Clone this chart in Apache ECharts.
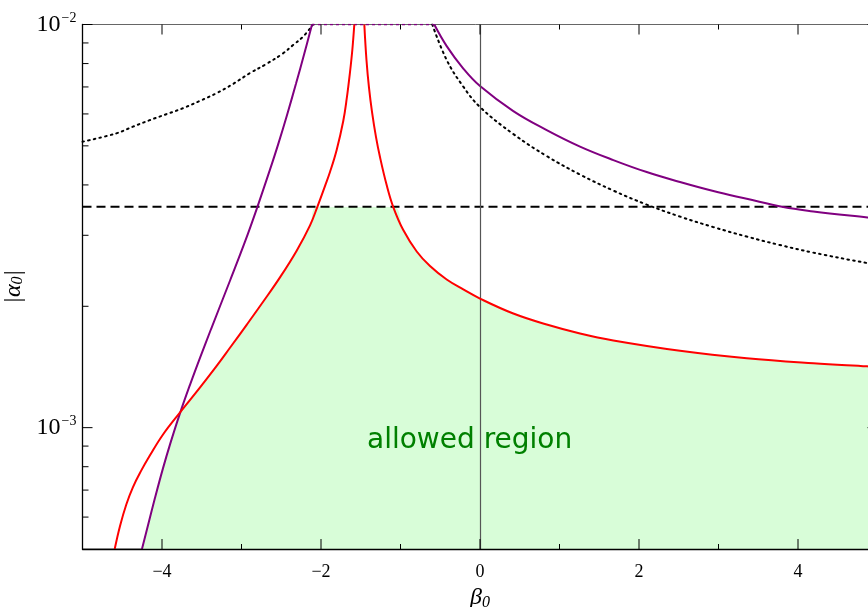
<!DOCTYPE html>
<html>
<head>
<meta charset="utf-8">
<script src="https://cdn.jsdelivr.net/npm/echarts@6/dist/echarts.min.js"></script>
<style>html,body{margin:0;padding:0;background:#fff;}#c{width:868px;height:607px;}</style>
</head>
<body>
<div id="c"></div>
<script>
// ---- data ----
const xRange = [-5, 5];
const yRange = [5e-4, 1e-2];

const purpleLX = [-4.252, -4.176, -4.088, -3.987, -3.899, -3.774, -3.648, -3.522, -3.384, -3.145, -2.956, -2.805, -2.642, -2.541, -2.428, -2.314, -2.214, -2.113];
const purpleLY = [5.0e-4, 5.728e-4, 6.696e-4, 7.936e-4, 9.09e-4, 1.085e-3, 1.277e-3, 1.490e-3, 1.754e-3, 2.314e-3, 2.892e-3, 3.505e-3, 4.364e-3, 5.029e-3, 5.958e-3, 7.137e-3, 8.41e-3, 1e-2];
const purpleTopX = [-2.113, -0.575];
const purpleTopY = [1e-2, 1e-2];
const purpleRX = [-0.575, -0.419, -0.210, 0, 0.419, 0.839, 1.258, 1.677, 2.097, 2.516, 2.935, 3.355, 3.815, 4.193, 4.874, 5.0];
const purpleRY = [1e-2, 8.84e-3, 7.777e-3, 7.036e-3, 6.10e-3, 5.472e-3, 4.98e-3, 4.61e-3, 4.305e-3, 4.066e-3, 3.862e-3, 3.695e-3, 3.525e-3, 3.439e-3, 3.32e-3, 3.30e-3];

const redLX = [-4.595, -4.528, -4.449, -4.365, -4.260, -4.155, -3.987, -3.770, -3.526, -3.317, -3.145, -2.935, -2.726, -2.516, -2.306, -2.138, -2.047, -1.950, -1.887, -1.803, -1.720, -1.677, -1.635, -1.606, -1.581];
const redLY = [5.0e-4, 5.705e-4, 6.448e-4, 7.123e-4, 7.833e-4, 8.517e-4, 9.618e-4, 1.093e-3, 1.255e-3, 1.419e-3, 1.578e-3, 1.799e-3, 2.055e-3, 2.359e-3, 2.748e-3, 3.175e-3, 3.525e-3, 3.974e-3, 4.305e-3, 4.884e-3, 5.763e-3, 6.535e-3, 7.624e-3, 8.644e-3, 1e-2];
const redRX = [-1.455, -1.428, -1.396, -1.358, -1.308, -1.258, -1.174, -1.091, -0.965, -0.796, -0.629, -0.419, -0.210, 0, 0.419, 0.839, 1.258, 1.677, 2.516, 3.355, 4.193, 4.874, 5.0];
const redRY = [1e-2, 8.166e-3, 6.96e-3, 6.065e-3, 5.257e-3, 4.69e-3, 3.996e-3, 3.525e-3, 3.091e-3, 2.735e-3, 2.516e-3, 2.33e-3, 2.202e-3, 2.09e-3, 1.919e-3, 1.802e-3, 1.712e-3, 1.645e-3, 1.551e-3, 1.486e-3, 1.444e-3, 1.419e-3, 1.414e-3];

const dotLX = [-5, -4.575, -4.365, -4.155, -3.946, -3.736, -3.526, -3.317, -3.107, -2.897, -2.688, -2.478, -2.352, -2.226, -2.10];
const dotLY = [5.12e-3, 5.37e-3, 5.58e-3, 5.79e-3, 5.99e-3, 6.20e-3, 6.46e-3, 6.75e-3, 7.12e-3, 7.57e-3, 7.98e-3, 8.48e-3, 8.89e-3, 9.33e-3, 1e-2];
const dotRX = [-0.60, -0.419, -0.210, 0, 0.419, 0.839, 1.258, 1.677, 2.097, 2.516, 2.935, 3.355, 3.774, 4.193, 4.874, 5.0];
const dotRY = [1e-2, 8.166e-3, 7.01e-3, 6.24e-3, 5.35e-3, 4.717e-3, 4.244e-3, 3.873e-3, 3.575e-3, 3.338e-3, 3.144e-3, 2.978e-3, 2.837e-3, 2.717e-3, 2.559e-3, 2.54e-3];

const dashX = [-5, 5];
const dashY = [3.53e-3, 3.53e-3];

const crossX = -3.772;     // purple / red crossing
const xMajorTicks = [-4, -2, 0, 2, 4];
const xMinorTicks = [-3, -1, 1, 3];
const yMajorTicks = [1e-3, 1e-2];
const yMinorTicks = [6e-4, 7e-4, 8e-4, 9e-4, 2e-3, 3e-3, 4e-3, 5e-3, 6e-3, 7e-3, 8e-3, 9e-3];
const areaLabel = 'allowed region';

// ---- build ----
const zip = (xs, ys) => xs.map((x, i) => [x, ys[i]]);
const dashLevel = dashY[0];
const greenPts = [].concat(
  zip(purpleLX, purpleLY).filter(p => p[0] < crossX - 0.01),
  zip(redLX, redLY).filter(p => p[0] >= crossX && p[1] <= dashLevel),
  zip(redRX, redRY).filter(p => p[1] <= dashLevel)
);

const tickData = [].concat(
  xMajorTicks.map(v => [v, 1e-3, 0, 1]),
  xMinorTicks.map(v => [v, 1e-3, 0, 0]),
  yMajorTicks.map(v => [0, v, 1, 1]),
  yMinorTicks.map(v => [0, v, 1, 0])
);

const chart = echarts.init(document.getElementById('c'), null, {renderer: 'canvas'});
const SM = 0.4;
const lineBase = {type: 'line', showSymbol: false, symbol: 'none', smooth: SM, clip: true, silent: true};

const option = {
  animation: false,
  backgroundColor: '#fff',
  grid: {left: 82.5, top: 24.5, width: 795, height: 524.5, show: true, borderColor: '#666', borderWidth: 1,
    backgroundColor: 'transparent', containLabel: false, outerBoundsMode: 'none'},
  xAxis: {
    type: 'value', min: xRange[0], max: xRange[1], interval: 1, z: 10,
    axisLine: {show: true, onZero: false, lineStyle: {color: '#000', width: 1.3}},
    axisTick: {show: false}, splitLine: {show: false},
    axisLabel: {
      margin: 14, color: '#000', fontFamily: 'Liberation Serif', fontSize: 18,
      formatter: v => (Math.round(v) % 2 === 0 && v < 5) ? String(v).replace('-', '\u2212') : ''
    },
    name: '{i|β}{s|0}', nameLocation: 'middle', nameGap: 30,
    nameTextStyle: {rich: {
      i: {fontFamily: 'Liberation Serif', fontStyle: 'italic', fontSize: 24, color: '#000'},
      s: {fontFamily: 'Liberation Serif', fontStyle: 'italic', fontSize: 16, color: '#000', verticalAlign: 'bottom', padding: [9, 0, 0, 0]}
    }}
  },
  yAxis: {
    type: 'log', logBase: 10, min: yRange[0], max: yRange[1], z: 10,
    axisLine: {show: true, onZero: false, lineStyle: {color: '#000', width: 1.3}},
    axisTick: {show: false}, splitLine: {show: false}, minorTick: {show: false},
    axisLabel: {
      margin: 6, showMinLabel: true, showMaxLabel: true,
      formatter: v => {
        const e = Math.log10(v);
        if (Math.abs(e - Math.round(e)) > 1e-6) return '';
        return '{b|10}{s|' + String(Math.round(e)).replace('-', '\u2212') + '}';
      },
      rich: {
        b: {fontFamily: 'Liberation Serif', fontSize: 24, color: '#000', lineHeight: 26},
        s: {fontFamily: 'Liberation Serif', fontSize: 14, color: '#000', verticalAlign: 'top', lineHeight: 26, padding: [0, 0, 0, 1]}
      }
    },
    name: '{i|\u007Cα}{s|0}{i|\u007C}', nameLocation: 'middle', nameGap: 56, nameRotate: 90,
    nameTextStyle: {rich: {
      i: {fontFamily: 'Liberation Serif', fontStyle: 'italic', fontSize: 24, color: '#000'},
      s: {fontFamily: 'Liberation Serif', fontStyle: 'italic', fontSize: 16, color: '#000', verticalAlign: 'bottom', padding: [8, 0, 0, 0]}
    }}
  },
  series: [
    {type: 'line', data: greenPts, showSymbol: false, symbol: 'none', smooth: SM, clip: true, silent: true,
      lineStyle: {width: 0}, areaStyle: {origin: 'start', color: '#d8fdd8', opacity: 1}, z: 1,
      markLine: {silent: true, symbol: 'none', label: {show: false}, lineStyle: {color: '#555', width: 1.2, type: 'solid'}, data: [{xAxis: 0}], animation: false}
    },
    Object.assign({}, lineBase, {data: zip(dashX, dashY), lineStyle: {color: '#000', width: 2, type: [9, 5]}, smooth: false, z: 3}),
    Object.assign({}, lineBase, {data: zip(dotLX, dotLY), lineStyle: {color: '#000', width: 2, type: [1.6, 4.2], cap: 'round'}, z: 3}),
    Object.assign({}, lineBase, {data: zip(dotRX, dotRY), lineStyle: {color: '#000', width: 2, type: [1.6, 4.2], cap: 'round'}, z: 3}),
    Object.assign({}, lineBase, {data: zip(purpleLX, purpleLY), lineStyle: {color: '#800080', width: 2}, z: 4}),
    Object.assign({}, lineBase, {data: zip(purpleTopX, purpleTopY), smooth: false, lineStyle: {color: '#800080', width: 1.5, type: [3, 3]}, z: 4}),
    Object.assign({}, lineBase, {data: zip(purpleRX, purpleRY), lineStyle: {color: '#800080', width: 2}, z: 4}),
    Object.assign({}, lineBase, {data: zip(redLX, redLY), lineStyle: {color: '#ff0000', width: 2}, z: 5}),
    Object.assign({}, lineBase, {data: zip(redRX, redRY), lineStyle: {color: '#ff0000', width: 2}, z: 5}),
    {
      type: 'custom', data: tickData, clip: false, silent: true, z: 6,
      renderItem: (params, api) => {
        const cs = params.coordSys;
        const kind = api.value(2), major = api.value(3);
        const p = api.coord([api.value(0), api.value(1)]);
        const st = {stroke: '#000', lineWidth: 1};
        if (kind === 0) {
          const len = major ? 10 : 5;
          const yb = cs.y + cs.height, yt = cs.y;
          return {type: 'group', children: [
            {type: 'line', shape: {x1: p[0], y1: yb, x2: p[0], y2: yb - len}, style: st},
            {type: 'line', shape: {x1: p[0], y1: yt, x2: p[0], y2: yt + len}, style: st}
          ]};
        }
        const len = major ? 10 : 6;
        const xl = cs.x, xr = cs.x + cs.width;
        return {type: 'group', children: [
          {type: 'line', shape: {x1: xl, y1: p[1], x2: xl + len, y2: p[1]}, style: st},
          {type: 'line', shape: {x1: xr, y1: p[1], x2: xr - len, y2: p[1]}, style: st}
        ]};
      }
    }
  ],
  graphic: [{
    type: 'text', z: 10, left: 367, top: 427,
    style: {text: areaLabel, fill: '#008000', font: '28px "DejaVu Sans"'}
  }]
};
chart.setOption(option);
</script>
</body>
</html>
